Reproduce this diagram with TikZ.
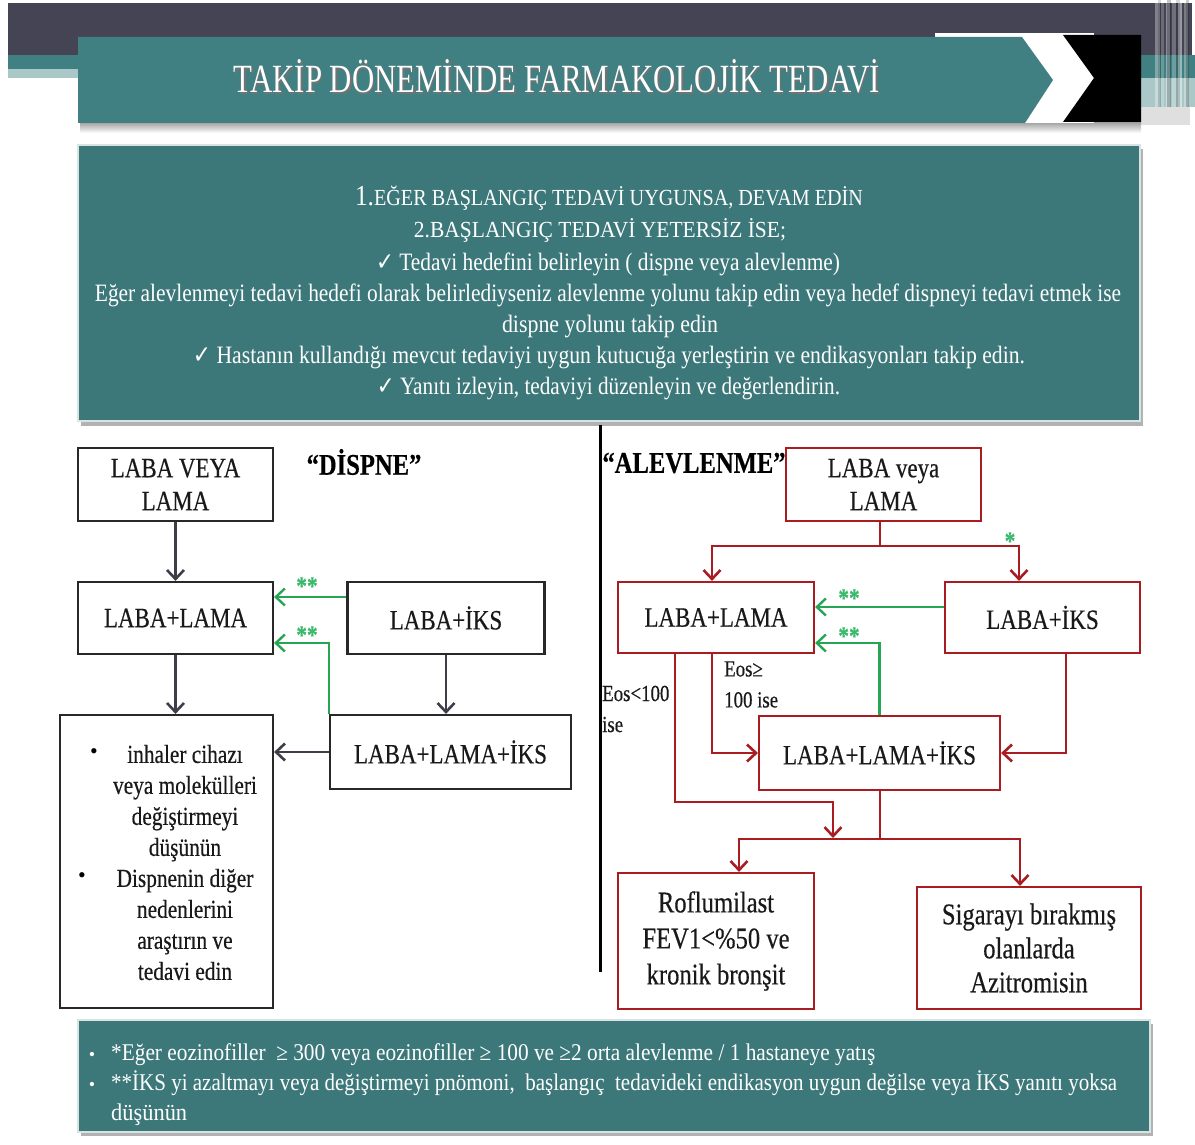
\documentclass[tikz,border=0pt]{standalone}
\usepackage{fontspec}
\setmainfont{Liberation Serif}
\newfontfamily\fc[FakeStretch=0.82,FakeBold=0.4]{Liberation Serif}
\newfontfamily\dv{DejaVu Sans}
\usetikzlibrary{arrows.meta,calc}
\newcommand\fitw[2]{\resizebox{#1}{\height}{#2}}
\newcommand\ck{{\dv ✓}}
\definecolor{tealc}{RGB}{60,120,122}
\definecolor{tealt}{RGB}{64,128,130}
\definecolor{darkband}{RGB}{68,68,84}
\definecolor{lightstrip}{RGB}{170,200,200}
\definecolor{redc}{RGB}{168,28,34}
\definecolor{greenc}{RGB}{38,165,82}
\definecolor{astc}{RGB}{60,185,110}
\definecolor{arrowc}{RGB}{62,62,74}
\definecolor{boxc}{RGB}{40,40,40}
\begin{document}
\begin{tikzpicture}[x=1pt,y=-1pt,
  bbox/.style={draw=boxc, line width=2.2pt, fill=white, inner sep=0pt, align=center, text=black!90,
    font=\fc\fontsize{28}{33}\selectfont},
  rbox/.style={bbox, draw=redc},
  darr/.style={draw=arrowc, line width=2.6pt, -{Straight Barb[length=9pt,width=17pt]}},
  rline/.style={draw=redc, line width=2.6pt},
  rarr/.style={rline, -{Straight Barb[length=9pt,width=17pt]}},
  garr/.style={draw=greenc, line width=2.4pt, -{Straight Barb[length=9pt,width=17pt]}},
  astk/.style={text=astc, inner sep=0pt, font=\fc\bfseries\fontsize{26}{26}\selectfont},
  lbl/.style={inner sep=0pt, text=black, font=\fc\bfseries\fontsize{30}{30}\selectfont},
  eos/.style={inner sep=0pt, align=left, text=black!90, font=\fc\fontsize{23}{31}\selectfont},
  wtxt/.style={anchor=base, text=white, inner sep=0pt},
]
\useasboundingbox (0,0) rectangle (1195,1145);
\fill[white] (0,0) rectangle (1195,1145);
% ---------- header decoration ----------
\fill[darkband] (8,3) rectangle (1192,55);
\fill[tealt] (8,55) rectangle (78,69);
\fill[lightstrip] (8,69) rectangle (78,78);
\fill[tealt] (1141,55) rectangle (1195,78);
\fill[lightstrip] (1141,78) rectangle (1195,107);
\foreach \xa/\xb/\g in {1155/1160/55, 1161/1164/35, 1166/1170/65, 1172/1176/40, 1178/1182/75, 1184/1188/50}
  \fill[white, opacity=\g/100*0.6] (\xa,0) rectangle (\xb,107);
\foreach \xa/\xb/\g in {1158/1161/30, 1167/1171/45, 1176/1180/30, 1186/1189/40}
  \fill[black, opacity=\g/100*0.5] (\xa,0) rectangle (\xb,107);
\fill[gray!25] (1141,107) rectangle (1190,125);
\shade[top color=gray!70, bottom color=white] (80,123) rectangle (1141,133);
\fill[white] (935,33) rectangle (1094,123);
\fill[tealt] (78,37) -- (1022,37) -- (1053,80) -- (1025,123) -- (78,123) -- cycle;
\fill[black] (1063,35) -- (1141,35) -- (1141,122) -- (1063,122) -- (1094,78) -- cycle;
\node[wtxt, text=black!55] (titles) at (558.5,94.5) {\fitw{646pt}{\fontsize{40}{40}\selectfont TAKİP DÖNEMİNDE FARMAKOLOJİK TEDAVİ}};
\node[wtxt] (title) at (557,93) {\fitw{646pt}{\fontsize{40}{40}\selectfont TAKİP DÖNEMİNDE FARMAKOLOJİK TEDAVİ}};
% ---------- top teal box ----------
\fill[gray!60] (81,149) rectangle (1143,426);
\filldraw[fill=tealc, draw=white!80!tealc, line width=1.5pt] (78,145) rectangle (1140,421);
\node[wtxt] (t1) at (609,206) {\fitw{508pt}{{\fontsize{29}{29}\selectfont 1.}\fontsize{23}{23}\selectfont EĞER BAŞLANGIÇ TEDAVİ UYGUNSA, DEVAM EDİN}};
\node[wtxt] (t2) at (600,237) {\fitw{372pt}{\fontsize{23}{23}\selectfont 2.BAŞLANGIÇ TEDAVİ YETERSİZ İSE;}};
\node[wtxt] (t3) at (608,270) {\fitw{464pt}{\fontsize{25}{25}\selectfont \ck\ Tedavi hedefini belirleyin ( dispne veya alevlenme)}};
\node[wtxt] (t4) at (608,301) {\fitw{1026pt}{\fontsize{25}{25}\selectfont Eğer alevlenmeyi tedavi hedefi olarak belirlediyseniz alevlenme yolunu takip edin veya hedef dispneyi tedavi etmek ise}};
\node[wtxt] (t5) at (610,332) {\fitw{216pt}{\fontsize{25}{25}\selectfont dispne yolunu takip edin}};
\node[wtxt] (t6) at (609,363) {\fitw{832pt}{\fontsize{25}{25}\selectfont \ck\ Hastanın kullandığı mevcut tedaviyi uygun kutucuğa yerleştirin ve endikasyonları takip edin.}};
\node[wtxt] (t7) at (608.5,394) {\fitw{463pt}{\fontsize{25}{25}\selectfont \ck\ Yanıtı izleyin, tedaviyi düzenleyin ve değerlendirin.}};
% ---------- divider ----------
\draw[line width=3pt, black] (600,425) -- (600,972);
% ---------- left flowchart (DİSPNE) ----------
\node[bbox, minimum width=195pt, minimum height=73pt] (A) at (175.5,484.5) {LABA VEYA\\LAMA};
\node[lbl] (dis) at (364,462) {“DİSPNE”};
\node[bbox, minimum width=195pt, minimum height=72pt] (B) at (175.5,618) {LABA+LAMA};
\node[bbox, minimum width=197pt, minimum height=72pt] (C) at (446,618) {LABA+İKS};
\node[bbox, minimum width=213pt, minimum height=293pt] (D) at (166.5,861.5) {};
\node[bbox, minimum width=241pt, minimum height=74pt] (E) at (450.5,752) {LABA+LAMA+İKS};
\node[inner sep=0pt, align=center, text=black!90, font=\fc\fontsize{26}{31}\selectfont] (Dt) at (185,862.5)
  {inhaler cihazı\\veya molekülleri\\değiştirmeyi\\düşünün\\Dispnenin diğer\\nedenlerini\\araştırın ve\\tedavi edin};
\node[inner sep=0pt, font=\fontsize{22}{22}\selectfont] (Db1) at (94,754) {•};
\node[inner sep=0pt, font=\fontsize{22}{22}\selectfont] (Db2) at (82,878) {•};
\draw[darr] (A) -- (B);
\draw[darr] (B.south) -- (B.south |- D.north);
\draw[darr] (C.south) -- (C.south |- E.north);
\draw[darr] (E.west) -- (E.west -| D.east);
\coordinate (gl1) at (0,597);
\coordinate (gl2) at (0,643);
\draw[garr] (C.west |- gl1) -- (B.east |- gl1);
\draw[garr] (E.north west) |- (B.east |- gl2);
\node[astk] (s1) at (307,586) {**};
\node[astk] (s2) at (307,635) {**};
% ---------- right flowchart (ALEVLENME) ----------
\node[lbl] (alv) at (694,463) {“ALEVLENME”};
\node[rbox, minimum width=195pt, minimum height=73pt] (R1) at (883.5,484.5) {LABA veya\\LAMA};
\node[rbox, minimum width=196pt, minimum height=71pt] (R2) at (716,617.5) {LABA+LAMA};
\node[rbox, minimum width=195pt, minimum height=71pt] (R3) at (1042.5,617.5) {LABA+İKS};
\node[rbox, minimum width=241pt, minimum height=74pt] (R4) at (879.5,753) {LABA+LAMA+İKS};
\node[rbox, minimum width=196pt, minimum height=136pt, font=\fc\fontsize{30}{36}\selectfont] (R5) at (716,941) {Roflumilast\\FEV1<\%50 ve\\kronik bronşit};
\node[rbox, minimum width=224pt, minimum height=122pt, font=\fc\fontsize{30}{34}\selectfont] (R6) at (1029,948) {Sigarayı bırakmış\\olanlarda\\Azitromisin};
\node[eos, anchor=west] (eos1) at (724,684.5) {Eos≥\\100 ise};
\node[eos, anchor=west] (eos2) at (602,709) {Eos<100\\ise};
\coordinate (j1) at (880,546);
\coordinate (xa) at (712,0);
\coordinate (xb) at (1019,0);
\coordinate (xc) at (1066,0);
\coordinate (xd) at (675,0);
\coordinate (xe) at (739,0);
\coordinate (xf) at (1020,0);
\coordinate (k1) at (833,802);
\coordinate (k2) at (833,838);
\coordinate (j2) at (880,839);
\draw[rline] (R1.south -| j1) -- (j1);
\draw[rarr] (j1) -| (R2.north -| xa);
\draw[rarr] (j1) -| (R3.north -| xb);
\node[astk] (s0) at (1010,541) {*};
\coordinate (gr1) at (0,607);
\coordinate (gr2) at (0,643);
\draw[garr] (R3.west |- gr1) -- (R2.east |- gr1);
\draw[garr] (R4.north) |- (R2.east |- gr2);
\node[astk] (s3) at (849,598) {**};
\node[astk] (s4) at (849,636) {**};
\draw[rarr] (R2.south -| xa) |- (R4.west);
\draw[rarr] (R3.south -| xc) |- (R4.east);
\draw[rarr] (R2.south -| xd) |- (k1) -- (k2);
\draw[rline] (R4.south -| j2) -- (j2);
\draw[rarr] (j2) -| (R5.north -| xe);
\draw[rarr] (j2) -| (R6.north -| xf);
% ---------- bottom teal box ----------
\fill[gray!60] (81,1024) rectangle (1153,1136);
\filldraw[fill=tealc, draw=white!80!tealc, line width=1.5pt] (78,1020) rectangle (1150,1132);
\node[wtxt] (bb1) at (92,1060) {\fontsize{18}{18}\selectfont •};
\node[wtxt] (bb2) at (92,1090) {\fontsize{18}{18}\selectfont •};
\node[wtxt, anchor=base west] (b1) at (111,1060) {\fitw{764pt}{\fontsize{24}{24}\selectfont *Eğer eozinofiller \ ≥ 300 veya eozinofiller ≥ 100 ve ≥2 orta alevlenme / 1 hastaneye yatış}};
\node[wtxt, anchor=base west] (b2) at (111,1090) {\fitw{1006pt}{\fontsize{24}{24}\selectfont **İKS yi azaltmayı veya değiştirmeyi pnömoni, \ başlangıç \ tedavideki endikasyon uygun değilse veya İKS yanıtı yoksa}};
\node[wtxt, anchor=base west] (b3) at (111,1120) {\fitw{76pt}{\fontsize{24}{24}\selectfont düşünün}};
\end{tikzpicture}
\end{document}
